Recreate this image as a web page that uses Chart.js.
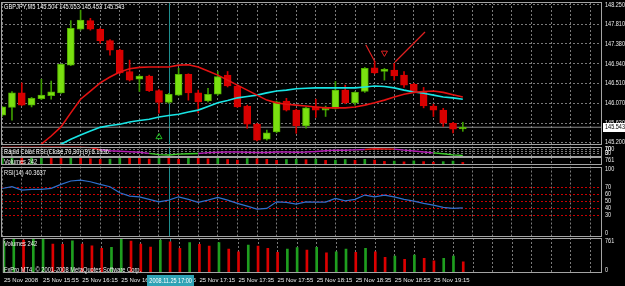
<!DOCTYPE html>
<html>
<head>
<meta charset="utf-8">
<script src="https://cdn.jsdelivr.net/npm/chart.js@4.4.1/dist/chart.umd.min.js"></script>
<style>
  html, body { margin: 0; padding: 0; background: #000; }
  #wrap { position: relative; width: 625px; height: 286px; background: #000; overflow: hidden; }
  #wrap canvas { position: absolute; left: 0; top: 0; }
  .lbl { position: absolute; left: 4px; color: #f2f2f2; white-space: nowrap;
         font: 6.5px 'Liberation Sans', sans-serif; line-height: 7px;
         transform: scaleX(0.88); transform-origin: 0 0; }
</style>
</head>
<body>
<div id="wrap">
  <canvas id="cPrice" width="625" height="286"></canvas>
  <canvas id="cRc" width="625" height="286"></canvas>
  <canvas id="cVs" width="625" height="286"></canvas>
  <canvas id="cRsi" width="625" height="286"></canvas>
  <canvas id="cVol" width="625" height="286"></canvas>
  <div class="lbl" id="tTitle" style="top:3px"></div>
  <div class="lbl" id="tRc" style="top:148px"></div>
  <div class="lbl" id="tVs" style="top:158px"></div>
  <div class="lbl" id="tRsi" style="top:169px"></div>
  <div class="lbl" id="tVol" style="top:240px"></div>
  <div class="lbl" id="tCopy" style="top:266px"></div>
</div>
<script>
'use strict';
/* global Chart */

// ── Data ────────────────────────────────────────────────────
const symbol   = 'GBPJPY,M5';
const dayText  = '25 Nov';
const yearText = '2008';
const cursorDate = '2008.11.25';
const copyright = 'FxPro MT4, © 2001-2008 MetaQuotes Software Corp.';

const times = [
  '15:35','15:40','15:45','15:50','15:55','16:00','16:05','16:10','16:15','16:20','16:25','16:30',
  '16:35','16:40','16:45','16:50','16:55','17:00','17:05','17:10','17:15','17:20','17:25','17:30',
  '17:35','17:40','17:45','17:50','17:55','18:00','18:05','18:10','18:15','18:20','18:25','18:30',
  '18:35','18:40','18:45','18:50','18:55','19:00','19:05','19:10','19:15','19:20','19:25','19:30'
];

const open = [
  145.81,145.98,146.30,146.03,146.17,146.24,146.30,146.91,147.70,147.89,147.70,147.45,
  147.24,146.77,146.60,146.67,146.35,146.09,146.25,146.71,146.30,146.12,146.27,146.69,
  146.45,146.01,145.61,145.28,145.44,146.12,145.92,145.57,145.99,145.92,145.96,146.36,
  146.08,146.33,146.85,146.77,146.80,146.69,146.49,146.33,146.01,145.92,145.63,145.504
];
const high = [
  146.00,146.33,146.52,146.20,146.60,146.56,146.94,147.89,148.12,147.94,147.72,147.47,
  147.26,147.02,146.69,146.69,146.37,146.29,146.84,146.72,146.36,146.40,146.77,146.77,
  146.47,146.03,145.63,145.48,146.12,146.18,145.94,145.99,146.16,146.01,146.55,146.47,
  146.33,146.86,146.99,146.84,146.95,146.77,146.51,146.42,146.05,145.96,145.65,145.653
];
const low = [
  145.78,145.70,146.02,145.99,146.15,146.16,146.29,146.90,147.68,147.68,147.39,147.13,
  146.72,146.56,146.33,146.33,145.85,146.07,146.24,146.14,145.86,146.10,146.25,146.43,
  145.98,145.52,145.24,145.26,145.42,145.90,145.41,145.52,145.76,145.78,145.94,146.06,
  146.03,146.31,146.72,146.58,146.58,146.42,146.30,145.97,145.78,145.56,145.42,145.453
];
const close = [
  145.99,146.30,146.03,146.18,146.25,146.32,146.93,147.72,147.90,147.70,147.45,147.24,
  146.74,146.58,146.67,146.35,146.09,146.27,146.71,146.30,146.10,146.27,146.66,146.45,
  145.99,145.61,145.26,145.42,146.10,145.92,145.57,145.97,145.92,145.96,146.36,146.08,
  146.31,146.84,146.74,146.82,146.67,146.47,146.33,146.01,145.92,145.63,145.50,145.543
];

// moving averages on the price window
const maRed = [
  144.82,144.86,144.95,145.04,145.17,145.35,145.55,145.86,146.16,146.34,146.52,146.65,
  146.76,146.83,146.86,146.87,146.87,146.87,146.91,146.92,146.87,146.78,146.69,146.58,
  146.47,146.36,146.25,146.14,146.08,146.05,146.03,146.01,145.99,145.97,145.97,145.97,
  145.99,146.03,146.08,146.14,146.21,146.27,146.31,146.33,146.34,146.31,146.26,146.21
];
const maCyan = [
  144.75,144.80,144.85,144.92,145.00,145.09,145.17,145.28,145.37,145.46,145.54,145.58,
  145.61,145.66,145.69,145.72,145.77,145.80,145.83,145.88,145.92,146.00,146.08,146.13,
  146.19,146.22,146.25,146.30,146.34,146.36,146.39,146.40,146.41,146.41,146.41,146.41,
  146.41,146.43,146.45,146.44,146.41,146.36,146.32,146.29,146.25,146.21,146.19,146.16
];

const rcrsi = [
  92,94,95,95,96,97,97,96,94,88,66,55,50,45,40,28,15,10,20,24,27,36,40,42,
  42,40,37,37,42,42,40,42,47,55,62,61,64,68,76,74,72,62,52,42,33,24,12,6.1536
];
const rsi = [
  68.3,70.9,66.1,67.1,67.1,68.6,74.3,79.1,80.5,78.1,74.3,70.9,62.2,57.4,56.4,52.7,
  49.2,51.7,56.4,52.7,48.3,51.7,55.6,51.7,46.9,43.0,38.7,39.7,49.2,48.3,45.9,49.2,
  48.8,48.8,54.1,50.6,52.7,58.9,56.4,58.9,56.4,52.7,50.2,46.9,44.4,41.1,39.7,40.3637
];
const volume = [
  700,754,717,754,760,630,624,702,630,593,537,559,739,696,630,565,717,680,537,659,624,587,659,522,
  463,609,587,537,450,522,550,500,560,441,463,522,450,537,463,341,370,298,391,320,267,320,370,242
];

const priceTicks = [148.25, 147.81, 147.38, 146.94, 146.51, 146.07, 145.63, 145.2];
const rcLevels   = [70, 50, 30];
const rcTicks    = [100, 70, 30, 0];
const rsiLevels  = [70, 60, 50, 40, 30];
const rsiTicks   = [100, 70, 60, 50, 40, 30, 0];
const volTicks   = [761, 0];

const cursorBar  = 17;                 // 17:00 vertical line
const arrowUp    = [{ x: 16, y: 145.33 }];
const arrowDown  = [{ x: 39, y: 147.18 }];
const trendA     = [{ x: 37.1, y: 147.36 }, { x: 38.04, y: 146.98 }];
const trendB     = [{ x: 40.08, y: 146.98 }, { x: 43.14, y: 147.64 }];

// ── Look ────────────────────────────────────────────────────
const H = 286, AXIS_W = 23;
const X_MIN = -0.12, X_MAX = 61.2;
const FAMILY = "'Liberation Sans', sans-serif";
const SQUEEZE = 0.85;                  // terminal font is narrower than Arial
const TEXT = '#ececec', GRID = '#7a7a7a', FRAME = '#a4a4a4', CURSOR = '#1f8f8f';
const UP = '#7ae010', UP_EDGE = '#52b000', WICK_UP = '#3d9c00', DOWN = '#d80000';
const VOL_UP = '#1f9f1f', VOL_DOWN = '#dd0000';
const last = close.length - 1;

const pts = arr => arr.map((y, x) => ({ x, y }));
const bull = k => close[k] >= open[k];

function narrowText(ctx, text, x, y, align) {
  ctx.save();
  ctx.translate(x, y);
  ctx.scale(SQUEEZE, 1);
  ctx.textAlign = align || 'left';
  ctx.fillText(text, 0, 0);
  ctx.restore();
}

// ── Plugins ─────────────────────────────────────────────────
const frame = {
  id: 'frame',
  afterDraw(chart) {
    const { ctx, chartArea: a } = chart;
    ctx.save();
    ctx.strokeStyle = FRAME;
    ctx.lineWidth = 1;
    ctx.strokeRect(a.left + 0.5, Math.round(a.top) + 0.5, a.width - 1, Math.round(a.height) - 1);
    ctx.restore();
  }
};

const cursorLine = {
  id: 'cursorLine',
  beforeDatasetsDraw(chart) {
    const { ctx, chartArea: a, scales: { x } } = chart;
    const px = Math.round(x.getPixelForValue(cursorBar)) + 0.5;
    ctx.save();
    ctx.strokeStyle = CURSOR;
    ctx.lineWidth = 1;
    ctx.beginPath();
    ctx.moveTo(px, a.top);
    ctx.lineTo(px, a.bottom);
    ctx.stroke();
    ctx.restore();
  }
};

// right-hand labels, kept inside the panel like the terminal does
const sideLabels = {
  id: 'sideLabels',
  afterDraw(chart, args, o) {
    if (!o.values) return;
    const { ctx, chartArea: a, scales: { y } } = chart;
    ctx.save();
    ctx.font = `6.5px ${FAMILY}`;
    ctx.fillStyle = TEXT;
    ctx.textBaseline = 'middle';
    o.values.forEach(v => {
      const py = Math.min(Math.max(y.getPixelForValue(v), a.top + 3), a.bottom - 3);
      narrowText(ctx, v.toFixed(o.decimals || 0), a.right + 3, py);
    });
    ctx.restore();
  }
};

const bidBox = {
  id: 'bidBox',
  afterDraw(chart) {
    const { ctx, chartArea: a, scales: { y } } = chart;
    const py = Math.round(y.getPixelForValue(close[last]));
    ctx.save();
    ctx.fillStyle = '#ffffff';
    ctx.fillRect(a.right + 1, py - 4, AXIS_W - 1, 9);
    ctx.fillStyle = '#000000';
    ctx.font = `6.5px ${FAMILY}`;
    ctx.textBaseline = 'middle';
    narrowText(ctx, close[last].toFixed(3), a.right + 3, py + 0.5);
    ctx.restore();
  }
};

const timeBox = {
  id: 'timeBox',
  afterDraw(chart) {
    const { ctx, chartArea: a, scales: { x } } = chart;
    const px = x.getPixelForValue(cursorBar);
    ctx.save();
    ctx.fillStyle = '#2ea3b5';
    ctx.fillRect(Math.round(px - 23), a.bottom + 2, 47, 11);
    ctx.fillStyle = '#ffffff';
    ctx.font = `6.5px ${FAMILY}`;
    ctx.textBaseline = 'middle';
    narrowText(ctx, `${cursorDate} ${times[cursorBar]}`, px + 0.5, a.bottom + 8, 'center');
    ctx.restore();
  }
};

// ── Axes ────────────────────────────────────────────────────
function xAxis(showTime) {
  return {
    type: 'linear', min: X_MIN, max: X_MAX, offset: false,
    afterBuildTicks: s => {
      const t = [];
      for (let v = 0; v <= X_MAX; v += 2) t.push({ value: v });
      s.ticks = t;
    },
    afterFit: s => { s.height = showTime ? 13 : 0; },
    grid: { color: GRID, drawTicks: false, offset: false },
    border: { display: false, dash: [2, 2] },
    ticks: {
      display: showTime, autoSkip: false, maxRotation: 0, minRotation: 0,
      align: 'start', padding: 4, color: TEXT, font: { family: FAMILY, size: 6 },
      callback: v => {
        if (v % 4 !== 0 || v >= times.length) return '';
        return v === 0 ? `${dayText} ${yearText}` : `${dayText} ${times[v]}`;
      }
    }
  };
}

function yAxis(min, max, gridTicks, gridColor) {
  return {
    position: 'right', min, max,
    afterBuildTicks: s => { if (gridTicks) s.ticks = gridTicks.map(v => ({ value: v })); },
    afterFit: s => { s.width = AXIS_W; },
    ticks: { display: false },
    grid: { display: !!gridTicks, color: gridColor || GRID, drawTicks: false },
    border: { display: false, dash: [2, 2] }
  };
}

function panel(id, top, bottom, datasets, y, labels, opts = {}) {
  return new Chart(document.getElementById(id), {
    type: 'line',
    data: { datasets },
    options: {
      responsive: false, animation: false, events: [],
      layout: { autoPadding: false,
                padding: { top, bottom: H - bottom - (opts.showTime ? 13 : 0), left: 1, right: 0 } },
      plugins: { legend: { display: false }, tooltip: { enabled: false }, sideLabels: labels },
      scales: { x: xAxis(!!opts.showTime), y }
    },
    plugins: [cursorLine, frame, sideLabels, ...(opts.extra || [])]
  });
}

// ── Price panel ─────────────────────────────────────────────
panel('cPrice', 2, 145, [
  { type: 'line', data: [{ x: X_MIN - 1, y: close[last] }, { x: X_MAX + 1, y: close[last] }],
    borderColor: '#8e8e8e', borderWidth: 1, pointRadius: 0, order: 9 },
  { type: 'bar', data: close.map((c, k) => ({ x: k, y: [low[k], high[k]] })), grouped: false,
    barThickness: 1, backgroundColor: c => bull(c.dataIndex) ? WICK_UP : DOWN, order: 8 },
  { type: 'bar', data: close.map((c, k) => ({ x: k, y: [open[k], c] })), grouped: false,
    barThickness: 7, minBarLength: 1, borderWidth: 1, borderSkipped: false,
    backgroundColor: c => bull(c.dataIndex) ? UP : DOWN,
    borderColor: c => bull(c.dataIndex) ? UP_EDGE : DOWN, order: 7 },
  { type: 'line', data: pts(maRed), borderColor: '#e31212', borderWidth: 1.6, pointRadius: 0, order: 3 },
  { type: 'line', data: pts(maCyan), borderColor: '#18e4e4', borderWidth: 1.6, pointRadius: 0, order: 3 },
  { type: 'line', data: trendA, borderColor: '#e02020', borderWidth: 1.2, pointRadius: 0, order: 2 },
  { type: 'line', data: trendB, borderColor: '#e02020', borderWidth: 1.2, pointRadius: 0, order: 2 },
  { type: 'line', data: arrowUp, showLine: false, pointStyle: 'triangle', pointRadius: 3.5,
    pointBorderColor: '#1fbf1f', pointBackgroundColor: 'rgba(0,0,0,0)', pointBorderWidth: 1, order: 1 },
  { type: 'line', data: arrowDown, showLine: false, pointStyle: 'triangle', pointRotation: 180, pointRadius: 3.5,
    pointBorderColor: '#e02020', pointBackgroundColor: 'rgba(0,0,0,0)', pointBorderWidth: 1, order: 1 }
], yAxis(145.152, 148.30, priceTicks), { values: priceTicks, decimals: 3 }, { extra: [bidBox] });

// ── Rapid Color RSI ─────────────────────────────────────────
const rcColor = v => v > 70 ? '#e01010' : v < 30 ? '#3ccf2a' : '#b21ab2';
panel('cRc', 146.5, 156, [
  { type: 'line', data: pts(rcrsi), borderColor: '#b21ab2', borderWidth: 1.4, pointRadius: 0,
    segment: { borderColor: c => rcColor((c.p0.parsed.y + c.p1.parsed.y) / 2) } }
], yAxis(0, 100, rcLevels), { values: rcTicks });

// ── Volumes (small) ─────────────────────────────────────────
const volColor = c => (c.dataIndex > 0 && volume[c.dataIndex] < volume[c.dataIndex - 1]) ? VOL_DOWN : VOL_UP;
panel('cVs', 157, 165, [
  { type: 'bar', data: pts(volume), grouped: false, barThickness: 2, backgroundColor: volColor }
], yAxis(0, 761, null), { values: [761] });

// ── RSI(14) ─────────────────────────────────────────────────
panel('cRsi', 166.5, 236, [
  { type: 'line', data: pts(rsi), borderColor: '#2f6fcc', borderWidth: 1.2, pointRadius: 0 }
], yAxis(0, 100, rsiLevels, '#c80000'), { values: rsiTicks });

// ── Volumes ─────────────────────────────────────────────────
panel('cVol', 238, 273, [
  { type: 'bar', data: pts(volume), grouped: false, barThickness: 2, backgroundColor: volColor }
], yAxis(0, 761, null), { values: volTicks }, { showTime: true, extra: [timeBox] });

// ── Captions ────────────────────────────────────────────────
const f3 = v => v.toFixed(3);
document.getElementById('tTitle').textContent =
  `${symbol}  ${f3(open[last])} ${f3(high[last])} ${f3(low[last])} ${f3(close[last])}`;
document.getElementById('tRc').textContent = `Rapid Color RSI (Close,70,30) (9) ${rcrsi[last].toFixed(4)}`;
document.getElementById('tVs').textContent = `Volumes ${volume[last]}`;
document.getElementById('tRsi').textContent = `RSI(14) ${rsi[last].toFixed(4)}`;
document.getElementById('tVol').textContent = `Volumes ${volume[last]}`;
document.getElementById('tCopy').textContent = copyright;
</script>
</body>
</html>
